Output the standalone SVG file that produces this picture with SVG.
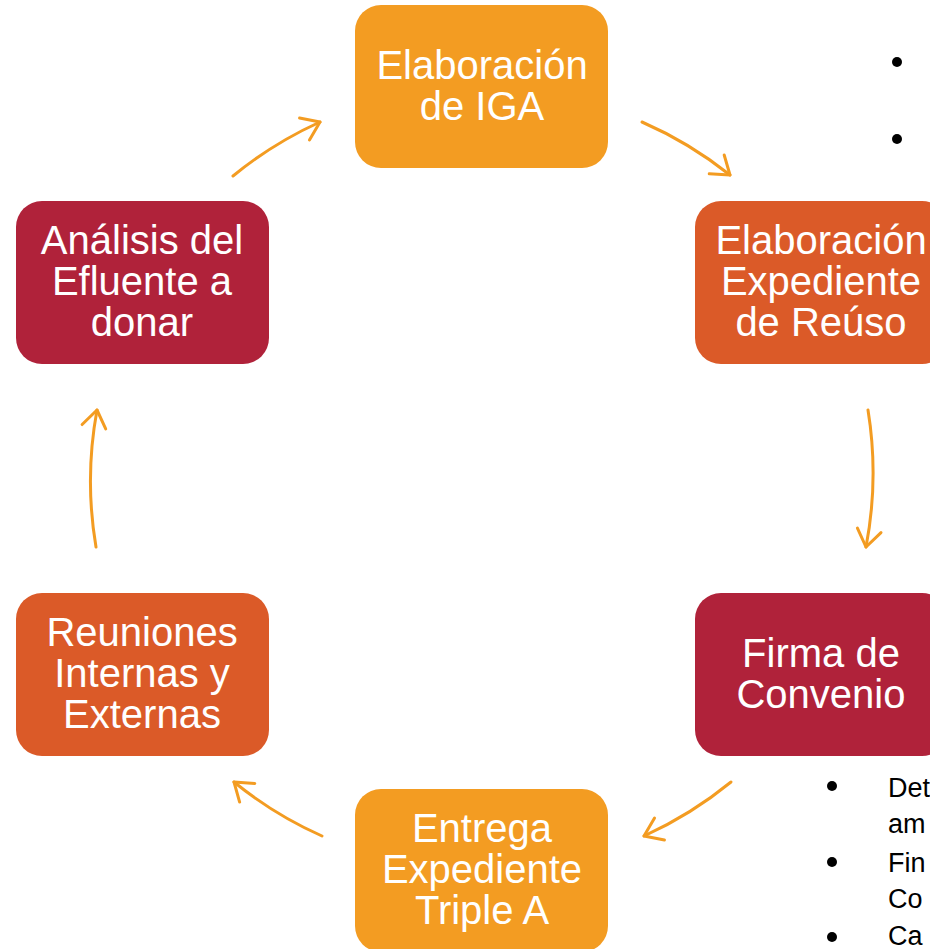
<svg xmlns="http://www.w3.org/2000/svg" width="930" height="949" viewBox="0 0 930 949">
<style>
.box{stroke:none}
.o{fill:#F39C22}
.r{fill:#DB5A28}
.c{fill:#B0223A}
.t{font-family:"Liberation Sans",Arial,sans-serif;font-size:40px;fill:#ffffff;text-anchor:middle}
.bt{font-family:"Liberation Sans",Arial,sans-serif;font-size:27px;fill:#000000}
.conn{fill:none;stroke:#F39C22;stroke-width:3;stroke-linecap:round}
</style>
<defs>
<marker id="ah" markerUnits="userSpaceOnUse" markerWidth="40" markerHeight="40" refX="0" refY="0" viewBox="-22 -20 30 40" orient="auto" overflow="visible">
<path d="M-17,-12 L0,0 L-17,12" fill="none" stroke="#F39C22" stroke-width="3" stroke-linecap="round" stroke-linejoin="round"/>
</marker>
</defs>
<rect width="930" height="949" fill="#ffffff"/>
<g id="connectors">
<path class="conn" marker-end="url(#ah)" d="M233,176 A393,393 0 0 1 320,122"/>
<path class="conn" marker-end="url(#ah)" d="M642,122 A393,393 0 0 1 730,175"/>
<path class="conn" marker-end="url(#ah)" d="M868,410 A393,393 0 0 1 866,547"/>
<path class="conn" marker-end="url(#ah)" d="M731,782 A393,393 0 0 1 644,836"/>
<path class="conn" marker-end="url(#ah)" d="M322,836 A393,393 0 0 1 234,782"/>
<path class="conn" marker-end="url(#ah)" d="M96,547 A393,393 0 0 1 97,410"/>
</g>
<g id="node-iga">
<rect class="box o" x="355" y="5" width="253" height="163" rx="26"/>
<text class="t" x="482" y="79">Elaboración</text>
<text class="t" x="482" y="120">de IGA</text>
</g>
<g id="node-reuso">
<rect class="box r" x="695" y="201" width="253" height="163" rx="26"/>
<text class="t" x="821" y="254">Elaboración</text>
<text class="t" x="821" y="295">Expediente</text>
<text class="t" x="821" y="336">de Reúso</text>
</g>
<g id="node-convenio">
<rect class="box c" x="695" y="593" width="253" height="163" rx="26"/>
<text class="t" x="821" y="667">Firma de</text>
<text class="t" x="821" y="708">Convenio</text>
</g>
<g id="node-entrega">
<rect class="box o" x="355" y="789" width="253" height="163" rx="26"/>
<text class="t" x="482" y="842">Entrega</text>
<text class="t" x="482" y="883">Expediente</text>
<text class="t" x="482" y="924">Triple A</text>
</g>
<g id="node-reuniones">
<rect class="box r" x="16" y="593" width="253" height="163" rx="26"/>
<text class="t" x="142" y="646">Reuniones</text>
<text class="t" x="142" y="687">Internas y</text>
<text class="t" x="142" y="728">Externas</text>
</g>
<g id="node-analisis">
<rect class="box c" x="16" y="201" width="253" height="163" rx="26"/>
<text class="t" x="142" y="254">Análisis del</text>
<text class="t" x="142" y="295">Efluente a</text>
<text class="t" x="142" y="336">donar</text>
</g>
<g id="bullets-top">
<circle cx="897" cy="62" r="5"/>
<circle cx="897" cy="139" r="5"/>
</g>
<g id="bullets-bottom">
<circle cx="832" cy="786" r="5"/>
<circle cx="832" cy="862" r="5"/>
<circle cx="832" cy="937" r="5"/>
<text class="bt" x="888" y="797">Det</text>
<text class="bt" x="888" y="833">am</text>
<text class="bt" x="888" y="872">Fin</text>
<text class="bt" x="888" y="908">Co</text>
<text class="bt" x="888" y="945">Ca</text>
</g>
</svg>
